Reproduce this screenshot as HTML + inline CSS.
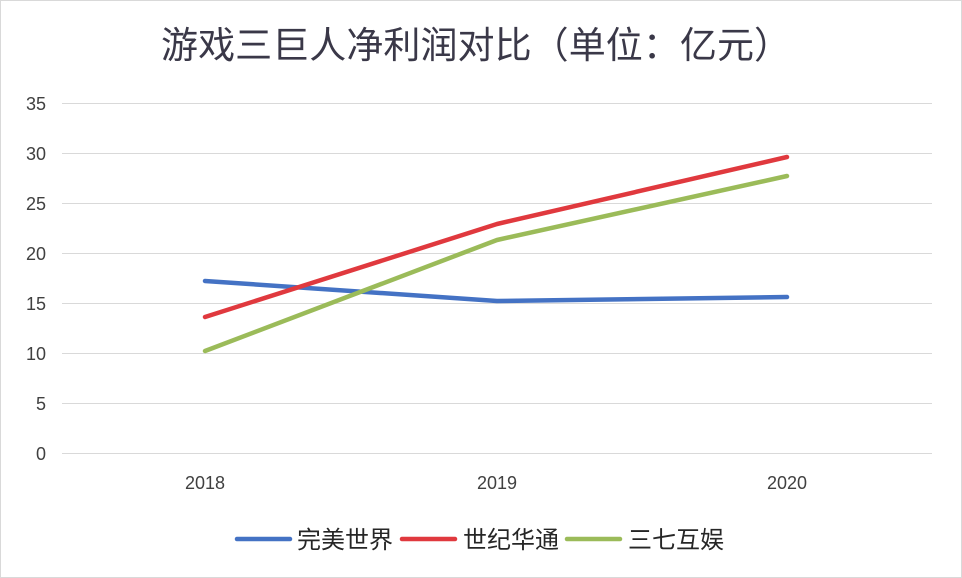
<!DOCTYPE html>
<html><head><meta charset="utf-8"><style>
body{margin:0;background:#fff}
svg{display:block}
</style></head><body>
<svg width="962" height="578" xmlns="http://www.w3.org/2000/svg" font-family="Liberation Sans, Noto Sans CJK SC, sans-serif">
<rect x="0.5" y="0.5" width="961" height="577" fill="#fff" stroke="#d9d9d9"/>
<text x="161" y="58" font-size="37" fill="#3a3848" textLength="630" font-family="Noto Sans CJK SC, sans-serif">游戏三巨人净利润对比（单位：亿元）</text>
<g stroke="#d9d9d9" stroke-width="1">
<line x1="62" x2="932" y1="103.5" y2="103.5"/>
<line x1="62" x2="932" y1="153.5" y2="153.5"/>
<line x1="62" x2="932" y1="203.5" y2="203.5"/>
<line x1="62" x2="932" y1="253.5" y2="253.5"/>
<line x1="62" x2="932" y1="303.5" y2="303.5"/>
<line x1="62" x2="932" y1="353.5" y2="353.5"/>
<line x1="62" x2="932" y1="403.5" y2="403.5"/>
<line x1="62" x2="932" y1="453.5" y2="453.5"/>
</g>
<g font-size="18" fill="#404040" text-anchor="end">
<text x="46" y="110">35</text><text x="46" y="160">30</text><text x="46" y="210">25</text><text x="46" y="260">20</text><text x="46" y="310">15</text><text x="46" y="360">10</text><text x="46" y="410">5</text><text x="46" y="460">0</text>
</g>
<g font-size="18" fill="#404040" text-anchor="middle">
<text x="205" y="489">2018</text><text x="497" y="489">2019</text><text x="787" y="489">2020</text>
</g>
<g fill="none" stroke-width="4.5" stroke-linejoin="round" stroke-linecap="round">
<polyline stroke="#4472c4" points="205,281 497,301 787,297"/>
<polyline stroke="#9bbb59" points="205,351 497,240 787,176"/>
<polyline stroke="#e0393e" points="205,317 497,224 787,157"/>
</g>
<g stroke-width="4.5" stroke-linecap="round">
<line x1="237" x2="290" y1="539" y2="539" stroke="#4472c4"/>
<line x1="402" x2="455" y1="539" y2="539" stroke="#e0393e"/>
<line x1="567" x2="620" y1="539" y2="539" stroke="#9bbb59"/>
</g>
<g font-size="24" fill="#262626">
<text x="297" y="548">完美世界</text>
<text x="463" y="548">世纪华通</text>
<text x="628" y="548">三七互娱</text>
</g>
</svg>
</body></html>
